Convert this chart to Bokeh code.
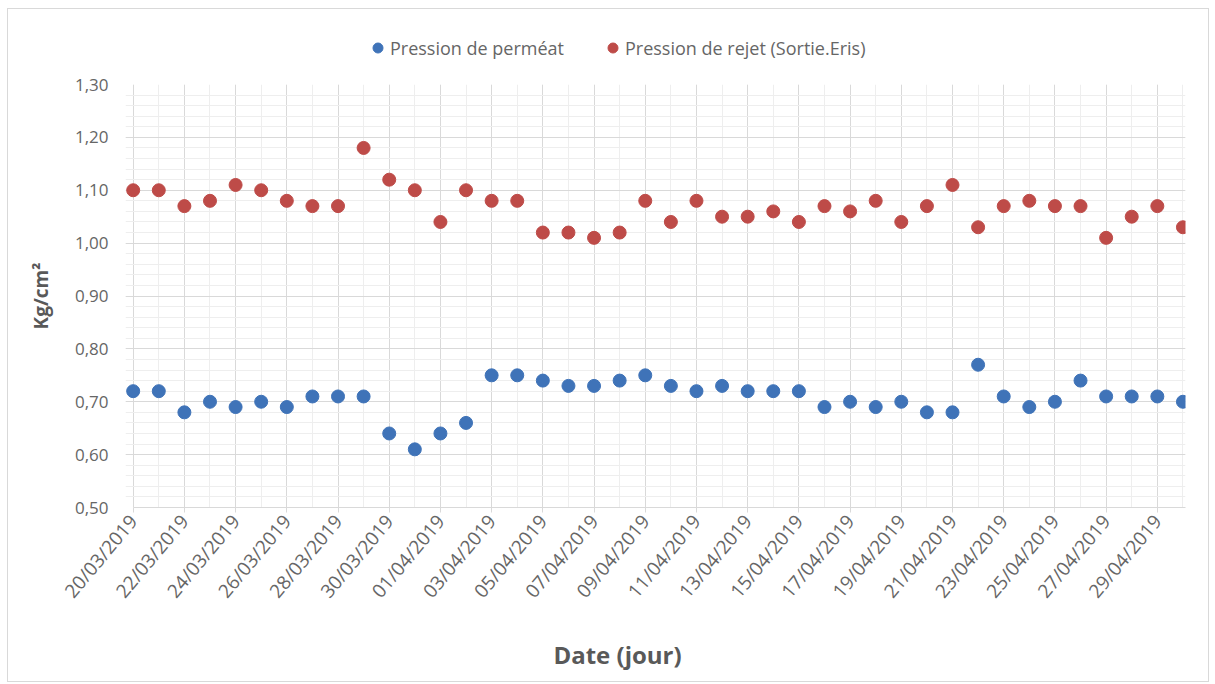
import math
import numpy as np
import pandas as pd
from bokeh.plotting import figure
from bokeh.layouts import column
from bokeh.core.properties import value
from bokeh.models import (ColumnDataSource, FixedTicker, Range1d, Legend, LegendItem,
                          CustomJSTickFormatter, DatetimeTickFormatter)
from bokeh.embed import file_html
from bokeh.resources import INLINE

# ---- data ----
dates = pd.date_range("2019-03-20", "2019-04-30", freq="D")
permeat = [0.72, 0.72, 0.68, 0.70, 0.69, 0.70, 0.69, 0.71, 0.71, 0.71,
           0.64, 0.61, 0.64, 0.66, 0.75, 0.75, 0.74, 0.73, 0.73, 0.74,
           0.75, 0.73, 0.72, 0.73, 0.72, 0.72, 0.72, 0.69, 0.70, 0.69,
           0.70, 0.68, 0.68, 0.77, 0.71, 0.69, 0.70, 0.74, 0.71, 0.71,
           0.71, 0.70]
rejet = [1.10, 1.10, 1.07, 1.08, 1.11, 1.10, 1.08, 1.07, 1.07, 1.18,
         1.12, 1.10, 1.04, 1.10, 1.08, 1.08, 1.02, 1.02, 1.01, 1.02,
         1.08, 1.04, 1.08, 1.05, 1.05, 1.06, 1.04, 1.07, 1.06, 1.08,
         1.04, 1.07, 1.11, 1.03, 1.07, 1.08, 1.07, 1.07, 1.01, 1.05,
         1.07, 1.03]
series_names = ["Pression de perméat", "Pression de rejet (Sortie.Eris)"]
y_ticks = [0.5, 0.6, 0.7, 0.8, 0.9, 1.0, 1.1, 1.2, 1.3]
x_title = "Date (jour)"
y_title = "Kg/cm²"

BLUE = "#3F73B8"
RED = "#BE4B48"
GREY = "#666666"
TGREY = "#595959"
FONT = "Open Sans"
W = 1200

src = ColumnDataSource(dict(x=dates, permeat=permeat, rejet=rejet))

DAY = 86400000.0
x0 = dates[0].value / 1e6
x1 = dates[-1].value / 1e6


def strip(h):
    f = figure(width=W, height=h, output_backend="svg", toolbar_location=None,
               x_range=Range1d(0, W), y_range=Range1d(0, h),
               x_axis_location=None, y_axis_location=None, min_border=0)
    f.grid.visible = False
    f.outline_line_color = None
    f.border_fill_color = "white"
    f.background_fill_color = "white"
    return f


# ---- legend strip (top) ----
top = strip(60)
lr1 = top.scatter(x=[-50], y=[-50], size=12, color=BLUE)
lr2 = top.scatter(x=[-50], y=[-50], size=12, color=RED)
legend = Legend(items=[LegendItem(label=series_names[0], renderers=[lr1]),
                       LegendItem(label=series_names[1], renderers=[lr2])],
                orientation="horizontal", location=(240, 9))
legend.border_line_color = None
legend.background_fill_alpha = 0
legend.label_text_font = FONT
legend.label_text_font_size = "18px"
legend.label_text_color = GREY
legend.glyph_width = 25
legend.glyph_height = 25
legend.label_standoff = 0
legend.spacing = 36
legend.padding = 0
legend.margin = 0
top.add_layout(legend, "center")

# ---- main chart ----
p = figure(width=W, height=548, output_backend="svg", toolbar_location=None,
           x_axis_type="datetime",
           x_range=Range1d(x0 - 0.3 * DAY, x1 + 0.1 * DAY),
           y_range=Range1d(0.5, 1.3),
           min_border_left=117, min_border_right=23, min_border_top=15, min_border_bottom=110)
p.outline_line_color = None
p.background_fill_color = "white"
p.border_fill_color = "white"

major_x = [d.value / 1e6 for d in dates[::2]]
minor_x = [d.value / 1e6 for d in dates]
p.xaxis.ticker = FixedTicker(ticks=major_x, minor_ticks=minor_x)
p.xaxis.formatter = DatetimeTickFormatter(days="%d/%m/%Y", months="%d/%m/%Y")
p.xaxis.major_label_orientation = math.radians(50)
p.xaxis.major_label_text_font = FONT
p.xaxis.major_label_text_font_size = "19px"
p.xaxis.major_label_text_color = GREY
p.xaxis.major_label_standoff = 5
p.xaxis.axis_line_color = "#d9d9d9"
p.xaxis.bounds = (x0, x1 + 0.1 * DAY)
p.xaxis.major_tick_line_color = "#d9d9d9"
p.xaxis.major_tick_in = 0
p.xaxis.major_tick_out = 5
p.xaxis.minor_tick_line_color = None

y_minor = list(np.round(np.arange(0.5, 1.3001, 0.02), 2))
p.yaxis.ticker = FixedTicker(ticks=y_ticks, minor_ticks=y_minor)
p.yaxis.formatter = CustomJSTickFormatter(code="return tick.toFixed(2).replace('.', ',');")
p.yaxis.major_label_text_font = FONT
p.yaxis.major_label_text_font_size = "17px"
p.yaxis.major_label_text_color = GREY
p.yaxis.axis_line_color = None
p.yaxis.major_tick_line_color = None
p.yaxis.minor_tick_line_color = None
p.yaxis.major_label_standoff = 11
p.yaxis.axis_label = y_title
p.yaxis.axis_label_text_font = FONT
p.yaxis.axis_label_text_font_size = "19px"
p.yaxis.axis_label_text_font_style = "bold"
p.yaxis.axis_label_text_color = TGREY
p.yaxis.axis_label_standoff = 18

p.xgrid.grid_line_color = "#d9d9d9"
p.xgrid.minor_grid_line_color = "#eeeeee"
p.ygrid.grid_line_color = "#d9d9d9"
p.ygrid.minor_grid_line_color = "#eeeeee"

p.scatter("x", "permeat", source=src, size=13, color=BLUE, line_color=BLUE)
p.scatter("x", "rejet", source=src, size=13, color=RED, line_color=RED)

# ---- x title strip (bottom) ----
bot = strip(64)
bot.text(x=[557], y=[27], text=[x_title], text_align="center", text_baseline="middle",
         text_font=value(FONT), text_font_size="24px", text_font_style="bold",
         text_color=TGREY)

layout = column(top, p, bot, spacing=0)
layout.styles = {"border": "1px solid #d9d9d9", "margin-left": "7px", "margin-top": "8px",
                 "background-color": "white"}

open("out.html", "w").write(file_html(layout, INLINE))
